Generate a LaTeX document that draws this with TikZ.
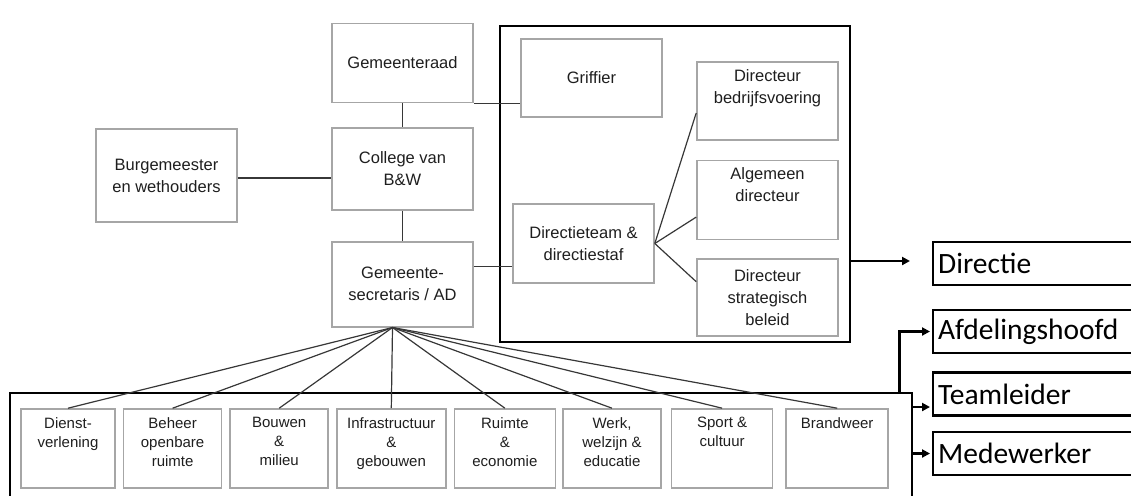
\documentclass[tikz,border=0pt]{standalone}
\usepackage{fontspec}
\setmainfont{Liberation Sans}
\newfontfamily\rankfont{Carlito}
\usetikzlibrary{positioning,arrows.meta}
\definecolor{boxgray}{RGB}{166,166,166}
\definecolor{linegray}{RGB}{55,55,55}
\definecolor{textgray}{RGB}{30,30,30}

\begin{document}
\begin{tikzpicture}[x=1pt, y=-1pt,
    org/.style = {draw=boxgray, line width=1.6pt, minimum width=141pt, minimum height=79pt, inner sep=0pt, align=center, text=textgray, font=\fontsize{16.5}{22}\selectfont},
    orgtxt/.style = {anchor=north, yshift=-8pt, inner sep=0pt, align=center, text=textgray, font=\fontsize{16.5}{22}\selectfont},
    unit/.style = {draw=boxgray, line width=1.6pt, minimum height=79pt, inner sep=0pt},
    unittxt/.style = {anchor=north, yshift=-9pt, inner sep=0pt, align=center, text=textgray, font=\fontsize{15}{19}\selectfont},
    boxframe/.style = {draw=black, line width=2.6pt, inner sep=0pt},
    rankbox/.style = {draw=black, line width=2.2pt, minimum height=43pt, text width=240pt, inner xsep=5pt, inner ysep=0pt, align=left, anchor=west, font=\rankfont\fontsize{29.5}{31}\selectfont},
    conn/.style = {draw=linegray, line width=1.2pt},
    arr/.style = {draw=black, line width=2.4pt, -{Triangle[length=8pt,width=8pt]}}]
  \clip (0,0) rectangle (1131,495);

  % bestuur
  \node[org] (raad) at (402.5,63) {Gemeenteraad};
  \node[org, minimum height=82pt] (college) [below=24pt of raad] {College van\\B\&W};
  \node[org, minimum height=85pt] (secr) [below=30pt of college] {Gemeente-\\secretaris / AD};
  \node[org, minimum height=93pt] (burg) at (166.5,175.5) {Burgemeester\\en wethouders};

  % directie
  \node[boxframe, minimum width=350pt, minimum height=316pt] (dirframe) at (675,184) {};
  \node[org, minimum height=78pt] (griffier) at (591.5,78) {Griffier};
  \node[org] (dteam) at (583.5,243.5) {Directieteam \&\\directiestaf};
  \node[org, minimum height=78pt, label={[orgtxt]north:{Directeur\\bedrijfsvoering}}] (bedrijf) at (767.5,101) {};
  \node[org, label={[orgtxt]north:{Algemeen\\directeur}}] (algdir) [below=19pt of bedrijf] {};
  \node[org, minimum height=77pt] (strat) [below=18pt of algdir] {Directeur\\strategisch\\beleid};

  % afdelingen
  \node[boxframe, minimum width=902pt, minimum height=130pt] (unitframe) at (461,458) {};
  \node[unit, minimum width=94pt, label={[unittxt]north:{Dienst-\\verlening}}] (dienst) at (68,448.5) {};
  \node[unit, minimum width=98pt, label={[unittxt]north:{Beheer\\openbare\\ruimte}}] (beheer) [right=7pt of dienst] {};
  \node[unit, minimum width=98pt, label={[unittxt]north:{Bouwen\\\&\\milieu}}] (bouwen) [right=7pt of beheer] {};
  \node[unit, minimum width=109pt, label={[unittxt]north:{Infrastructuur\\\&\\gebouwen}}] (infra) [right=7pt of bouwen] {};
  \node[unit, minimum width=101pt, label={[unittxt]north:{Ruimte\\\&\\economie}}] (ruimte) [right=7pt of infra] {};
  \node[unit, minimum width=98pt, label={[unittxt]north:{Werk,\\welzijn \&\\educatie}}] (werk) [right=6pt of ruimte] {};
  \node[unit, minimum width=101pt, label={[unittxt]north:{Sport \&\\cultuur}}] (sport) [right=9pt of werk] {};
  \node[unit, minimum width=102pt, label={[unittxt]north:{Brandweer}}] (brandweer) [right=12pt of sport] {};

  % niveaus
  \node[rankbox] (directie) at (932,263.5) {Directie};
  \node[rankbox] (afdhoofd) at (932,331.5) {Afdelingshoofd};
  \node[rankbox] (teamleider) at (932,394) {Teamleider};
  \node[rankbox] (medewerker) at (932,453.5) {Medewerker};

  \draw[conn] (raad) -- (college);
  \draw[conn] (college) -- (secr);
  \draw[conn] ([yshift=-2.5pt]burg.east) -- ([yshift=-2.5pt]burg.east -| college.west);
  \draw[conn] (raad.south east) -- (raad.south east -| griffier.west);
  \draw[conn] ([yshift=18pt]secr.east) -- ([yshift=18pt]secr.east -| dteam.west);
  \draw[conn] (dteam.east) -- ([yshift=-12pt]bedrijf.west);
  \draw[conn] (dteam.east) -- ([yshift=-17pt]algdir.west);
  \draw[conn] (dteam.east) -- ([yshift=16pt]strat.west);

  \coordinate (fan) at ([xshift=-10pt]secr.south);
  \foreach \u in {dienst,beheer,bouwen,infra,ruimte,werk,sport,brandweer}
    \draw[conn] (fan) -- (\u.north);

  \coordinate (dirtip) at (910,261);
  \draw[arr] (dirframe.east |- dirtip) -- (dirtip);
  \draw[arr] ([xshift=-14pt]unitframe.north east) |- ([xshift=-2pt]afdhoofd.west);
  \draw[arr] ([yshift=-13pt]teamleider.west -| unitframe.east) -- ([yshift=-13pt,xshift=-2pt]teamleider.west);
  \draw[arr] (medewerker.west -| unitframe.east) -- ([xshift=-2pt]medewerker.west);
\end{tikzpicture}
\end{document}
